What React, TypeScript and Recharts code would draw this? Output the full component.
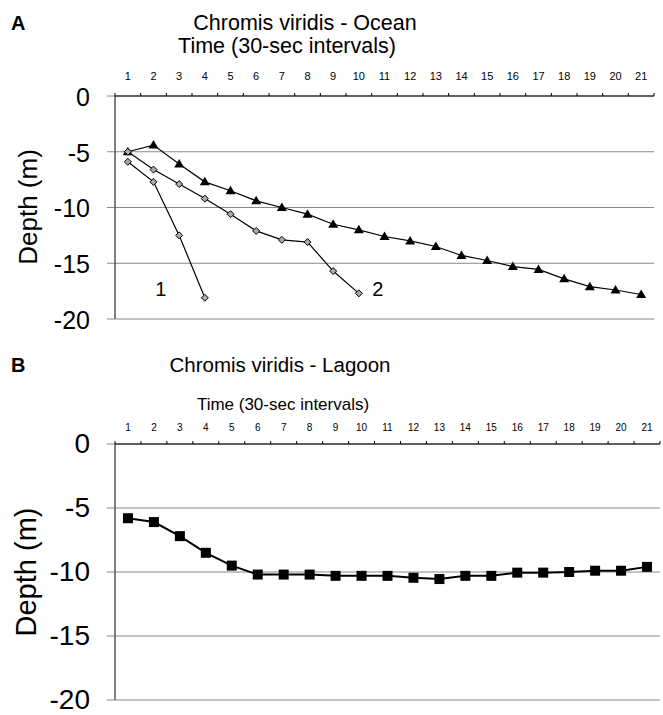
import React from "react";
import { CartesianGrid, Line, LineChart, XAxis, YAxis } from "recharts";

const times = [1, 2, 3, 4, 5, 6, 7, 8, 9, 10, 11, 12, 13, 14, 15, 16, 17, 18, 19, 20, 21];
const depthTicks = [0, -5, -10, -15, -20];

// Ocean: fish 1, fish 2, fish 3 (triangles)
const ocean1 = [-5.9, -7.7, -12.5, -18.1];
const ocean2 = [-5.0, -6.6, -7.9, -9.2, -10.6, -12.1, -12.9, -13.1, -15.7, -17.7];
const ocean3 = [
  -5.0, -4.4, -6.1, -7.7, -8.5, -9.4, -10.0, -10.6, -11.5, -12.0, -12.6, -13.0, -13.5, -14.3,
  -14.75, -15.3, -15.55, -16.4, -17.1, -17.4, -17.8,
];
// Lagoon
const lagoon = [
  -5.8, -6.1, -7.2, -8.5, -9.5, -10.2, -10.2, -10.2, -10.3, -10.3, -10.3, -10.45, -10.55, -10.3,
  -10.3, -10.05, -10.05, -10.0, -9.9, -9.9, -9.6,
];

const oceanData = times.map((t, i) => ({ t, s1: ocean1[i], s2: ocean2[i], s3: ocean3[i] }));
const lagoonData = times.map((t, i) => ({ t, v: lagoon[i] }));

const FONT = "'Liberation Sans', Arial, Helvetica, sans-serif";

function makeTopTick(step: number, fontSize: number, lift: number) {
  return (props: any) => {
    const { x, y, payload, index } = props;
    const last = index === times.length - 1;
    return (
      <g>
        <line x1={x - step / 2} x2={x - step / 2} y1={y} y2={y - 3} stroke="#000" strokeWidth={1} />
        {last && <line x1={x + step / 2} x2={x + step / 2} y1={y} y2={y - 3} stroke="#000" strokeWidth={1} />}
        <text x={x} y={y - lift} textAnchor="middle" fontSize={fontSize} fontFamily={FONT} fill="#000">
          {payload.value}
        </text>
      </g>
    );
  };
}

const triangleDot = (p: any) => {
  if (p.cy == null || p.value == null) return <g key={p.key} />;
  const { cx, cy } = p;
  return <path key={p.key} d={`M${cx},${cy - 5} L${cx + 5},${cy + 3.5} L${cx - 5},${cy + 3.5} Z`} fill="#000" />;
};

const diamondDot = (p: any) => {
  if (p.cy == null || p.value == null) return <g key={p.key} />;
  const { cx, cy } = p;
  return (
    <path
      key={p.key}
      d={`M${cx},${cy - 3.5} L${cx + 3.5},${cy} L${cx},${cy + 3.5} L${cx - 3.5},${cy} Z`}
      fill="#aaa"
      stroke="#000"
      strokeWidth={1}
    />
  );
};

const squareDot = (p: any) => {
  if (p.cy == null) return <g key={p.key} />;
  return <rect key={p.key} x={p.cx - 5} y={p.cy - 5} width={10} height={10} fill="#000" />;
};

function endLabel(text: string, count: number, dx: number, dy: number) {
  return (p: any) => {
    if (p.index !== count - 1) return <g key={p.key} />;
    return (
      <text key={p.key} x={p.x + dx} y={p.y + dy} textAnchor="middle" fontSize={20} fontFamily={FONT} fill="#000">
        {text}
      </text>
    );
  };
}

export default function App() {
  const wA = 663 - 9 - 115;
  const wB = 663 - 3 - 115;
  return (
    <div style={{ position: "absolute", left: 0, top: 0, width: 663, height: 715, background: "#fff" }}>
      <div style={{ position: "absolute", left: 0, top: 0 }}>
        <LineChart width={663} height={345} data={oceanData} margin={{ top: 66, right: 9, bottom: 26, left: 0 }}>
          <CartesianGrid yAxisId="l" vertical={false} stroke="#888" />
          <XAxis
            dataKey="t"
            orientation="top"
            height={30}
            padding={{ left: wA / 42, right: wA / 42 }}
            axisLine={{ stroke: "#000" }}
            tickLine={false}
            tickSize={0}
            tickMargin={0}
            interval={0}
            tick={makeTopTick(wA / 21, 11, 16)}
          />
          <YAxis
            yAxisId="l"
            width={115}
            domain={[-20, 0]}
            ticks={depthTicks}
            interval={0}
            axisLine={{ stroke: "#000" }}
            tickLine={{ stroke: "#888" }}
            tickSize={8}
            tickMargin={17}
            tick={{ fontSize: 25, fill: "#000", fontFamily: FONT, dy: 1 }}
          />
          <YAxis yAxisId="r" orientation="right" width={0} domain={[-20, 0]} tick={false} tickLine={false} axisLine={{ stroke: "#444" }} />
          <Line yAxisId="l" dataKey="s3" stroke="#000" strokeWidth={1.2} dot={triangleDot} isAnimationActive={false} />
          <Line
            yAxisId="l"
            dataKey="s2"
            stroke="#000"
            strokeWidth={1.2}
            dot={diamondDot}
            label={endLabel("2", ocean2.length, 19, 3)}
            isAnimationActive={false}
          />
          <Line
            yAxisId="l"
            dataKey="s1"
            stroke="#000"
            strokeWidth={1.2}
            dot={diamondDot}
            label={endLabel("1", ocean1.length, -44, -2)}
            isAnimationActive={false}
          />
        </LineChart>
      </div>
      <div style={{ position: "absolute", left: 0, top: 340 }}>
        <LineChart width={663} height={375} data={lagoonData} margin={{ top: 74, right: 3, bottom: 15, left: 0 }}>
          <CartesianGrid yAxisId="l" vertical={false} stroke="#888" />
          <XAxis
            dataKey="t"
            orientation="top"
            height={30}
            padding={{ left: wB / 42, right: wB / 42 }}
            axisLine={{ stroke: "#000" }}
            tickLine={false}
            tickSize={0}
            tickMargin={0}
            interval={0}
            tick={makeTopTick(wB / 21, 10, 13)}
          />
          <YAxis
            yAxisId="l"
            width={115}
            domain={[-20, 0]}
            ticks={depthTicks}
            interval={0}
            axisLine={{ stroke: "#000" }}
            tickLine={{ stroke: "#888" }}
            tickSize={8}
            tickMargin={17}
            tick={{ fontSize: 28, fill: "#000", fontFamily: FONT, dy: -1 }}
          />
          <YAxis yAxisId="r" orientation="right" width={0} domain={[-20, 0]} tick={false} tickLine={false} axisLine={{ stroke: "#444" }} />
          <Line yAxisId="l" dataKey="v" stroke="#000" strokeWidth={2} dot={squareDot} isAnimationActive={false} />
        </LineChart>
      </div>
      <svg
        width={663}
        height={715}
        style={{ position: "absolute", left: 0, top: 0, pointerEvents: "none" }}
        fontFamily={FONT}
      >
        <text x={11} y={30} fontSize={20} fontWeight="bold">A</text>
        <text x={305} y={30} fontSize={21.5} textAnchor="middle">Chromis viridis - Ocean</text>
        <text x={287} y={53} fontSize={21.5} textAnchor="middle">Time (30-sec intervals)</text>
        <text transform="translate(37,207) rotate(-90)" fontSize={26} textAnchor="middle">Depth (m)</text>

        <text x={11} y={372} fontSize={20} fontWeight="bold">B</text>
        <text x={280} y={372} fontSize={20.5} textAnchor="middle">Chromis viridis - Lagoon</text>
        <text x={283} y={410} fontSize={17} textAnchor="middle">Time (30-sec intervals)</text>
        <text transform="translate(36,572) rotate(-90)" fontSize={29} textAnchor="middle">Depth (m)</text>
      </svg>
    </div>
  );
}
